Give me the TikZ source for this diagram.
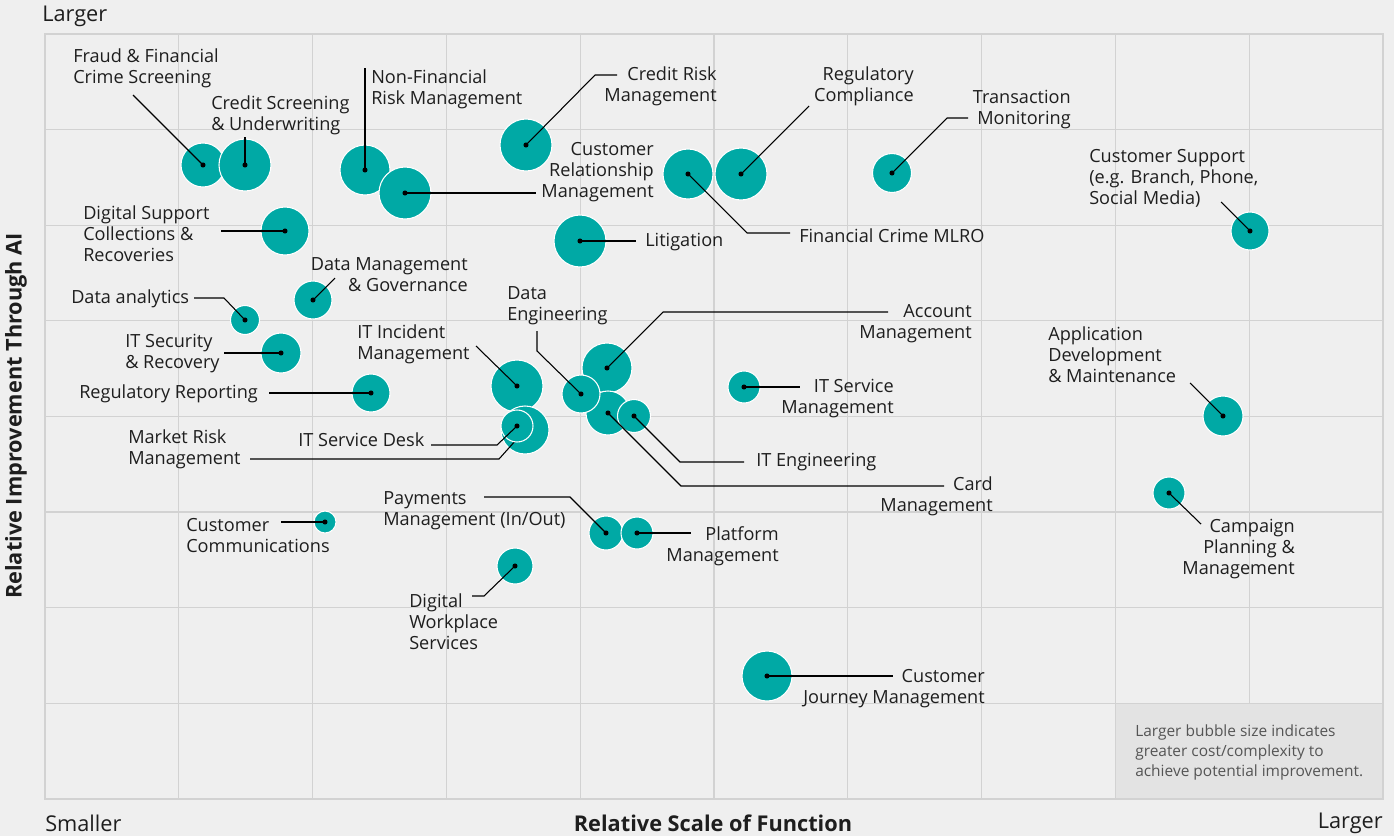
\documentclass[tikz,border=0pt]{standalone}
\usepackage{fontspec}
\setmainfont{Open Sans}
\definecolor{bgGrey}{HTML}{EFEFEF}
\definecolor{gridGrey}{HTML}{D2D2D2}
\definecolor{noteGrey}{HTML}{E3E3E3}
\definecolor{bubTeal}{HTML}{00A9A5}
\definecolor{txtDark}{HTML}{1E1E1E}
\definecolor{txtSoft}{HTML}{555555}

\begin{document}
\begin{tikzpicture}[x=0.75pt, y=-0.75pt,
    bubble/.style={circle, fill=bubTeal, draw=white, line width=0.8pt,
        inner sep=0pt, minimum size=#1*1.5pt},
    gridline/.style={draw=gridGrey, line width=1pt},
    leader/.style={draw=black, line width=0.8pt},
    lbl/.style={font=\fontsize{13.6}{15.75}\selectfont, text=txtDark, inner sep=0pt, yshift=-1.1pt},
    lblL/.style={lbl, align=left, anchor=west},
    lblR/.style={lbl, align=right, anchor=east},
    axis/.style={font=\fontsize{16.3}{18}\selectfont, text=txtDark, inner sep=0pt},
]

    % --- Dimensions (pixels of the chart) ---
    \def\PlotL{45}
    \def\PlotT{34}
    \def\ColW{133.8}
    \def\RowH{95.6}

    % --- Background ---
    \fill[bgGrey] (0,0) rectangle (1394,836);
    \useasboundingbox (0,0) rectangle (1394,836);

    % --- Grid ---
    \foreach \i in {0,...,10}
        \draw[gridline] ({\PlotL+\i*\ColW},\PlotT) -- ({\PlotL+\i*\ColW},{\PlotT+8*\RowH});
    \foreach \j in {0,...,8}
        \draw[gridline] (\PlotL,{\PlotT+\j*\RowH}) -- ({\PlotL+10*\ColW},{\PlotT+\j*\RowH});

    % --- Note box (bottom right cell pair) ---
    \fill[noteGrey] ({\PlotL+8*\ColW},{\PlotT+7*\RowH}) rectangle ({\PlotL+10*\ColW},{\PlotT+8*\RowH});
    \draw[gridline] ({\PlotL+8*\ColW},{\PlotT+7*\RowH}) rectangle ({\PlotL+10*\ColW},{\PlotT+8*\RowH});
    \draw[gridline, line width=1.3pt] (\PlotL,\PlotT) rectangle ({\PlotL+10*\ColW},{\PlotT+8*\RowH});

    % --- Bubbles: name/x/y/radius ---
    \foreach \n/\x/\y/\r in {
        fraud/203/165/22, credscr/245/165/26,
        nonfin/365/170/25, crm/405/193/26,
        credrisk/526/145/26, mlro/688/174/25, regcomp/741/174/26,
        trans/892/173/19.5, litig/580/241/26, custsup/1250/231/19,
        digsup/285/231/24, datamgmt/313/300/19, analytics/245/320/14.5,
        itsec/281/353/20, regrep/371/393/19,
        incident/517/386/26, marketrisk/525/430/24,
        account/607/368/25, card/608/413/22, dataeng/581/394/19, iteng/634/416/16.5,
        itsm/744/387/16, payments/606/533/17, platform/637/533/16,
        workplace/515/566/18, custcomm/325/522/11, journey/767/676/25,
        appdev/1223/416/20, campaign/1169/493/16}
        \node[bubble=\r] (\n) at (\x,\y) {};

    % Market risk leader runs under the service desk bubble
    \coordinate (marketrisk-e) at (250,459);
    \draw[leader] (marketrisk-e) -- (499,459) -- (marketrisk.center);
    \node[bubble=16] (servdesk) at (517,426) {};

    % --- Leader end points ---
    \coordinate (fraud-e) at (133,95);
    \coordinate (credscr-e) at (245,137);
    \coordinate (nonfin-e) at (365,68);
    \coordinate (crm-e) at (536,193);
    \coordinate (credrisk-e) at (617,75);
    \coordinate (mlro-e) at (790,233);
    \coordinate (regcomp-e) at (809,106);
    \coordinate (trans-e) at (968,118);
    \coordinate (litig-e) at (636,241);
    \coordinate (custsup-e) at (1221,202);
    \coordinate (digsup-e) at (221,231);
    \coordinate (datamgmt-e) at (335,278);
    \coordinate (analytics-e) at (194,298);
    \coordinate (itsec-e) at (224,353);
    \coordinate (regrep-e) at (269,393);
    \coordinate (incident-e) at (476,346);
    \coordinate (servdesk-e) at (431,445);
    \coordinate (dataeng-e) at (537,331);
    \coordinate (account-e) at (888,312);
    \coordinate (card-e) at (944,486);
    \coordinate (iteng-e) at (744,462);
    \coordinate (itsm-e) at (800,387);
    \coordinate (payments-e) at (484,497);
    \coordinate (platform-e) at (691,533);
    \coordinate (workplace-e) at (472,596);
    \coordinate (custcomm-e) at (281,522);
    \coordinate (journey-e) at (893,676);
    \coordinate (appdev-e) at (1190,383);
    \coordinate (campaign-e) at (1201,524);

    % --- Leaders ---
    \draw[leader] (fraud.center) -- (fraud-e);
    \draw[leader] (credscr.center) -- (credscr-e);
    \draw[leader] (nonfin.center) -- (nonfin-e);
    \draw[leader] (crm.center) -- (crm-e);
    \draw[leader] (credrisk.center) -- (595,75) -- (credrisk-e);
    \draw[leader] (mlro.center) -- (747,233) -- (mlro-e);
    \draw[leader] (regcomp.center) -- (regcomp-e);
    \draw[leader] (trans.center) -- (947,118) -- (trans-e);
    \draw[leader] (litig.center) -- (litig-e);
    \draw[leader] (custsup.center) -- (custsup-e);
    \draw[leader] (digsup-e) -- (digsup.center);
    \draw[leader] (datamgmt.center) -- (datamgmt-e);
    \draw[leader] (analytics-e) -- (224,298) -- (analytics.center);
    \draw[leader] (itsec-e) -- (itsec.center);
    \draw[leader] (regrep-e) -- (regrep.center);
    \draw[leader] (incident-e) -- (incident.center);
    \draw[leader] (servdesk-e) -- (497,445) -- (servdesk.center);
    \draw[leader] (dataeng-e) -- (537,351) -- (dataeng.center);
    \draw[leader] (account.center) -- (663,312) -- (account-e);
    \draw[leader] (card.center) -- (681,486) -- (card-e);
    \draw[leader] (iteng.center) -- (680,462) -- (iteng-e);
    \draw[leader] (itsm.center) -- (itsm-e);
    \draw[leader] (payments-e) -- (570,497) -- (payments.center);
    \draw[leader] (platform.center) -- (platform-e);
    \draw[leader] (workplace.center) -- (484,596) -- (workplace-e);
    \draw[leader] (custcomm-e) -- (custcomm.center);
    \draw[leader] (journey.center) -- (journey-e);
    \draw[leader] (appdev.center) -- (appdev-e);
    \draw[leader] (campaign.center) -- (campaign-e);

    % --- Centre dots ---
    \foreach \n in {fraud, credscr, nonfin, crm, credrisk, mlro, regcomp, trans,
        litig, custsup, digsup, datamgmt, analytics, itsec, regrep, incident,
        servdesk, account, card, dataeng, iteng, itsm, payments, platform,
        workplace, custcomm, journey, appdev, campaign}
        \fill (\n.center) circle[radius=1.9pt];

    % --- Labels ---
    \node[lblL] (fraud-l) at (73,66.5) {Fraud \& Financial\\Crime Screening};
    \node[lblL] (credscr-l) at (211,113.5) {Credit Screening\\\& Underwriting};
    \node[lblL] (nonfin-l) at (371,87.5) {Non-Financial\\Risk Management};
    \node[lblR] (credrisk-l) at (717,84.5) {Credit Risk\\Management};
    \node[lblR] (regcomp-l) at (914,84.5) {Regulatory\\Compliance};
    \node[lblR] (trans-l) at (1071,108.5) {Transaction\\Monitoring};
    \node[lblR] (crm-l) at (654,171) {Customer\\Relationship\\Management};
    \node[lblL] (mlro-l) at (799,234) {Financial Crime MLRO};
    \node[lblL] (litig-l) at (645,241) {Litigation};
    \node[lblL] (custsup-l) at (1089,177) {Customer Support\\(e.g. Branch, Phone,\\Social Media)};
    \node[lblL] (digsup-l) at (83,232) {Digital Support\\Collections \&\\Recoveries};
    \node[lblR] (datamgmt-l) at (468,273) {Data Management\\\& Governance};
    \node[lblL] (analytics-l) at (71,297) {Data analytics};
    \node[lblL] (itsec-l) at (125,352.5) {IT Security\\\& Recovery};
    \node[lblL] (regrep-l) at (79,392) {Regulatory Reporting};
    \node[lblL] (incident-l) at (357,342.5) {IT Incident\\Management};
    \node[lblL] (servdesk-l) at (298,438) {IT Service Desk};
    \node[lblL] (marketrisk-l) at (128,447.5) {Market Risk\\Management};
    \node[lblL] (dataeng-l) at (507,304) {Data\\Engineering};
    \node[lblR] (account-l) at (972,322.5) {Account\\Management};
    \node[lblR] (itsm-l) at (894,397.5) {IT Service\\Management};
    \node[lblL] (iteng-l) at (756,461) {IT Engineering};
    \node[lblR] (card-l) at (993,495) {Card\\Management};
    \node[lblL] (payments-l) at (383,509) {Payments\\Management (In/Out)};
    \node[lblR] (platform-l) at (779,544.5) {Platform\\Management};
    \node[lblL] (workplace-l) at (409,620) {Digital\\Workplace\\Services};
    \node[lblL] (custcomm-l) at (186,534.5) {Customer\\Communications};
    \node[lblR] (journey-l) at (985,687.5) {Customer\\Journey Management};
    \node[lblL] (appdev-l) at (1048,353.5) {Application\\Development\\\& Maintenance};
    \node[lblR] (campaign-l) at (1295,548) {Campaign\\Planning \&\\Management};

    % --- Note ---
    \node[inner sep=0pt, anchor=west, align=left, text=txtSoft,
        font=\fontsize{11.6}{15}\selectfont] (note) at (1135,752)
        {Larger bubble size indicates\\greater cost/complexity to\\achieve potential improvement.};

    % --- Axes ---
    \node[axis, anchor=west] (ytop) at (42,16) {Larger};
    \node[axis, anchor=west] (xleft) at (45,823) {Smaller};
    \node[axis, anchor=east] (xright) at (1383,823) {Larger};
    \node[axis, font=\fontsize{16.3}{18}\selectfont\bfseries] (xtitle) at (713,823) {Relative Scale of Function};
    \node[axis, font=\fontsize{16.3}{18}\selectfont\bfseries, rotate=90] (ytitle) at (16,416) {Relative Improvement Through AI};

\end{tikzpicture}
\end{document}
